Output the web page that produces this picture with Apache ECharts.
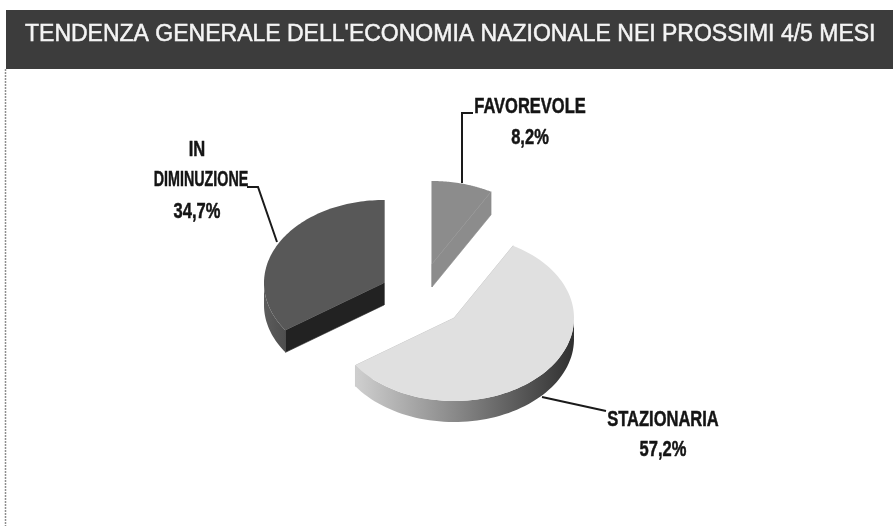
<!DOCTYPE html>
<html><head><meta charset="utf-8">
<style>html,body{margin:0;padding:0;background:#fff}#c{width:893px;height:526px}</style>
<script src="https://cdn.jsdelivr.net/npm/echarts@6/dist/echarts.min.js"></script>
</head><body><div id="c"></div>
<script>
const titleText = "TENDENZA GENERALE DELL'ECONOMIA NAZIONALE NEI PROSSIMI 4/5 MESI";
const categories = ["FAVOREVOLE", "STAZIONARIA", "IN DIMINUZIONE"];
const values = [8.2, 57.2, 34.7];

const RX = 120, RY = 83;
const centers = [[432, 264], [454, 318], [384, 283]];
const depths = [23, 21, 22];
const topColors = ['#8c8c8c', '#e0e0e0', '#585858'];
const cutColors = ['#8c8c8c', '#bdbdbd', '#222222'];
const wallStops = [
  [[0, '#8a8a8a'], [1, '#6a6a6a']],
  [[0, '#cfcfcf'], [0.45, '#8a8a8a'], [1, '#303030']],
  [[0, '#5c5c5c'], [1, '#4e4e4e']]
];
const labelLines = [
  [[530, 107, 'FAVOREVOLE', 0.75], [530, 138, null, 0.75]],
  [[663, 420, 'STAZIONARIA', 0.75], [663, 450, null, 0.75]],
  [[197, 150, 'IN', 0.75], [201, 180, 'DIMINUZIONE', 0.65], [197, 212, null, 0.75]]
];
const leaders = [
  [[473, 113], [462, 113], [462, 183]],
  [[606, 411], [542, 397]],
  [[247, 187], [258, 187], [277, 242]]
];

const total = values.reduce((a, b) => a + b, 0);
const fmt = v => v.toFixed(1).replace('.', ',') + '%';

function renderSlice(params, api) {
  const i = params.dataIndex;
  let start = 0;
  for (let k = 0; k < i; k++) start += values[k];
  const a0 = start / total * Math.PI * 2;
  const a1 = (start + api.value(0)) / total * Math.PI * 2;
  const [cx, cy] = centers[i], d = depths[i];
  const pt = a => [cx + RX * Math.sin(a), cy - RY * Math.cos(a)];
  const arc = [];
  const n = 90;
  for (let k = 0; k <= n; k++) arc.push(pt(a0 + (a1 - a0) * k / n));
  const down = p => [p[0], p[1] + d];
  const kids = [];
  const poly = (points, fill, stroke) => kids.push({
    type: 'polygon', shape: { points }, style: { fill, stroke: stroke || null, lineWidth: 0.6 }
  });

  const c0 = [cx, cy];
  [a0, a1].forEach(a => {
    const r = pt(a);
    poly([c0, r, down(r), down(c0)], cutColors[i], cutColors[i]);
  });
  const front = arc.filter(p => p[1] >= cy - 0.5);
  if (front.length > 1) {
    poly(front.concat(front.slice().reverse().map(down)), new echarts.graphic.LinearGradient(
      0, 0, 1, 0, wallStops[i].map(s => ({ offset: s[0], color: s[1] }))
    ));
  }
  poly([c0].concat(arc), topColors[i]);
  labelLines[i].forEach(l => {
    kids.push({
      type: 'text', x: l[0], y: l[1], scaleX: l[3],
      style: {
        x: 0, y: 0, text: l[2] === null ? fmt(api.value(0)) : l[2],
        fill: '#141414', stroke: '#141414', lineWidth: 0.5,
        font: 'bold 22px "Liberation Sans",sans-serif',
        align: 'center', verticalAlign: 'middle'
      }
    });
  });
  return { type: 'group', children: kids };
}

const chart = echarts.init(document.getElementById('c'), null, { renderer: 'canvas' });
chart.setOption({
  animation: false,
  backgroundColor: '#ffffff',
  title: {
    text: titleText, left: 20, top: 18,
    textStyle: {
      color: '#f4f4f4', fontSize: 23, fontWeight: 'normal',
      fontFamily: '"Liberation Sans",sans-serif',
      textBorderColor: '#f4f4f4', textBorderWidth: 0.5
    }
  },
  graphic: {
    elements: [
      { type: 'rect', z: -1, shape: { x: 6, y: 10, width: 887, height: 59 }, style: { fill: '#3c3c3c' } },
      { type: 'line', z: -1, shape: { x1: 5.5, y1: 69, x2: 5.5, y2: 526 }, style: { stroke: '#8f8f8f', lineWidth: 1.5, lineDash: [2, 1] } }
    ].concat(leaders.map(p => ({
      type: 'polyline', z: 5, shape: { points: p }, style: { stroke: '#1a1a1a', lineWidth: 2, fill: null }
    })))
  },
  series: [{
    type: 'custom',
    coordinateSystem: 'none',
    renderItem: renderSlice,
    data: values.map((v, i) => ({ name: categories[i], value: [v] }))
  }]
});
</script></body></html>
